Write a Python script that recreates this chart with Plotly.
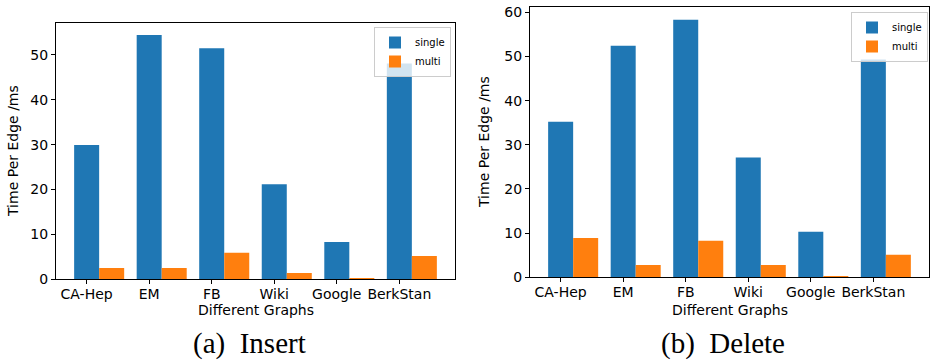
import plotly.graph_objects as go

categories = ["CA-Hep", "EM", "FB", "Wiki", "Google", "BerkStan"]
insert_single = [29.9, 54.4, 51.5, 21.2, 8.3, 48.1]
insert_multi = [2.5, 2.5, 5.9, 1.4, 0.3, 5.2]
delete_single = [35.2, 52.4, 58.3, 27.1, 10.3, 49.3]
delete_multi = [8.9, 2.8, 8.3, 2.8, 0.3, 5.1]
y_ticks_insert = [0, 10, 20, 30, 40, 50]
y_ticks_delete = [0, 10, 20, 30, 40, 50, 60]

BLUE = "#1f77b4"
ORANGE = "#ff7f0e"
FONT = "DejaVu Sans"
W, H = 930, 360
pos = list(range(len(categories)))

fig = go.Figure()

def add_pair(single, multi, xa, ya, leg):
    fig.add_trace(go.Bar(x=pos, y=single, name="single", marker_color=BLUE,
                         marker_line_width=0, width=0.4, offset=-0.2,
                         xaxis=xa, yaxis=ya, legend=leg))
    fig.add_trace(go.Bar(x=pos, y=multi, name="multi", marker_color=ORANGE,
                         marker_line_width=0, width=0.4, offset=0.2,
                         xaxis=xa, yaxis=ya, legend=leg))

add_pair(insert_single, insert_multi, "x", "y", "legend")
add_pair(delete_single, delete_multi, "x2", "y2", "legend2")

axis_common = dict(showline=True, linecolor="black", linewidth=1, mirror=True,
                   ticks="outside", ticklen=4, tickwidth=1, tickcolor="black",
                   showgrid=False, zeroline=False, automargin=False,
                   tickfont=dict(family=FONT, size=14, color="black"))

legend_common = dict(xanchor="right", yanchor="top",
                     bgcolor="rgba(255,255,255,0.8)", bordercolor="#cccccc", borderwidth=1,
                     font=dict(family=FONT, size=10, color="black"), tracegroupgap=0,
                     itemwidth=30)

fig.update_layout(
    template="none",
    width=W, height=H,
    margin=dict(l=0, r=0, t=0, b=0, pad=0, autoexpand=False),
    paper_bgcolor="white", plot_bgcolor="white",
    barmode="overlay",
    font=dict(family=FONT, color="black"),
    xaxis=dict(domain=[56 / W, 455 / W], anchor="y", range=[-0.49, 5.89],
               tickmode="array", tickvals=pos, ticktext=categories, tickangle=0,
               ticklabelstandoff=-2, **axis_common),
    yaxis=dict(domain=[1 - 279.3 / H, 1 - 23 / H], anchor="x", range=[0, 57.1],
               tickmode="array", tickvals=y_ticks_insert, **axis_common),
    xaxis2=dict(domain=[530 / W, 929 / W], anchor="y2", range=[-0.49, 5.89],
                tickmode="array", tickvals=pos, ticktext=categories, tickangle=0,
                ticklabelstandoff=-2, **axis_common),
    yaxis2=dict(domain=[1 - 277.3 / H, 1 - 7 / H], anchor="x2", range=[0, 61.2],
                tickmode="array", tickvals=y_ticks_delete, **axis_common),
    legend=dict(x=451 / W, y=1 - 27 / H, **legend_common),
    legend2=dict(x=928 / W, y=1 - 12 / H, **legend_common),
)

ann = [
    dict(text="Time Per Edge /ms", x=13 / W, y=1 - 151 / H, textangle=-90,
         font=dict(family=FONT, size=14)),
    dict(text="Time Per Edge /ms", x=484 / W, y=1 - 142 / H, textangle=-90,
         font=dict(family=FONT, size=14)),
    dict(text="Different Graphs", x=255.5 / W, y=1 - 310 / H,
         font=dict(family=FONT, size=14)),
    dict(text="Different Graphs", x=729.5 / W, y=1 - 310 / H,
         font=dict(family=FONT, size=14)),
    dict(text="(a)  Insert", x=250 / W, y=1 - 343 / H,
         font=dict(family="Liberation Serif", size=29)),
    dict(text="(b)  Delete", x=723 / W, y=1 - 343 / H,
         font=dict(family="Liberation Serif", size=29)),
]
for a in ann:
    fig.add_annotation(xref="paper", yref="paper", showarrow=False,
                       xanchor="center", yanchor="middle", **a)

fig.write_html("out.html", config={"displayModeBar": False},
               post_script="document.body.style.margin='0';document.body.style.overflow='hidden';")
